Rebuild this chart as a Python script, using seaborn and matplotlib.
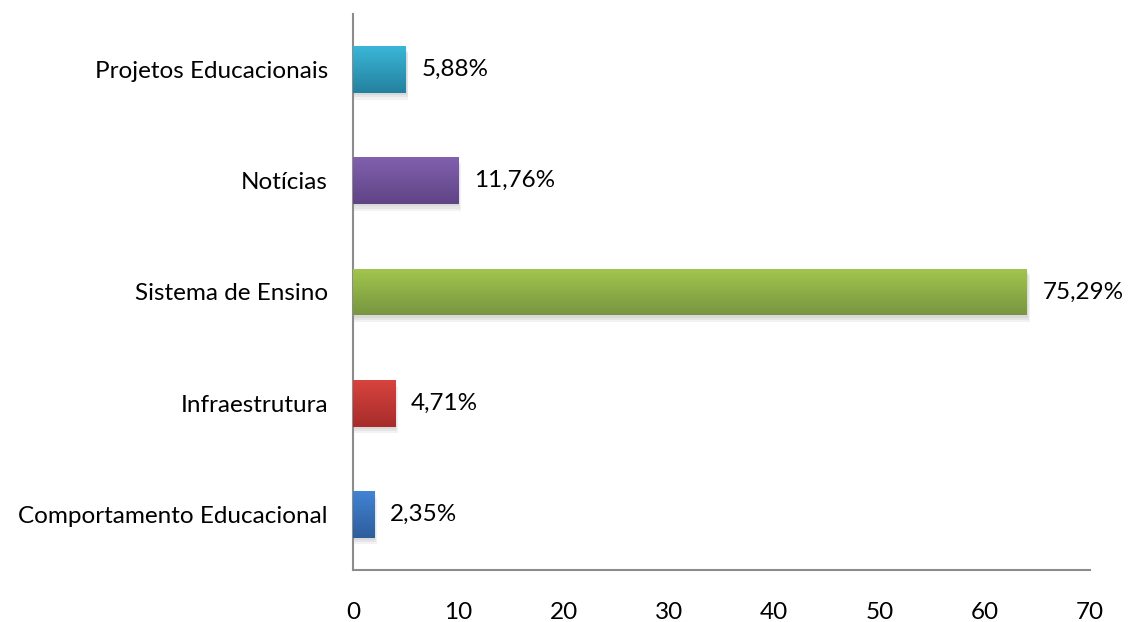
import numpy as np
import pandas as pd
import matplotlib
matplotlib.use("Agg")
import matplotlib.pyplot as plt
import seaborn as sns
from matplotlib.colors import LinearSegmentedColormap
from matplotlib.patches import Rectangle

categories = ["Projetos Educacionais", "Notícias", "Sistema de Ensino",
              "Infraestrutura", "Comportamento Educacional"]
values = [5, 10, 64, 4, 2]
labels = ["5,88%", "11,76%", "75,29%", "4,71%", "2,35%"]
top_colors = ["#3AB6D8", "#8160AE", "#A2C64E", "#D8433E", "#4283D3"]
bottom_colors = ["#24819E", "#5F4485", "#789640", "#A62C2A", "#2D5E9C"]
xticks = [0, 10, 20, 30, 40, 50, 60, 70]

sns.set_theme(style="white")
plt.rcParams['font.family'] = ['Lato', 'DejaVu Sans']

FS = 17.5

fig = plt.figure(figsize=(11.28, 6.22), dpi=100)
ax = fig.add_axes([353/1128, 52/622, (1090-353)/1128, (570-14)/622])

df = pd.DataFrame({"cat": categories, "val": values})
sns.barplot(data=df, x="val", y="cat", orient="h", ax=ax, width=0.42,
            color="#999999", saturation=1, edgecolor="none")

ax.set_xlim(0, 70)
ax.set_ylim(4.5, -0.5)

patches = list(ax.patches)
for p, c1, c2, lab in zip(patches, top_colors, bottom_colors, labels):
    x0, y0 = p.get_x(), p.get_y()
    w, h = p.get_width(), p.get_height()
    # soft shadow
    for k, a in enumerate([0.05, 0.05, 0.05]):
        off = 0.1 + 0.08 * k
        sh = Rectangle((x0, y0 + 0.02 + 0.02 * k), w + off, h, facecolor="#000000",
                       alpha=a, edgecolor="none", zorder=1)
        ax.add_patch(sh)
    cmap = LinearSegmentedColormap.from_list("g", [c1, c2])
    grad = np.linspace(0, 1, 100).reshape(-1, 1)
    im = ax.imshow(grad, cmap=cmap, aspect="auto",
                   extent=[x0, x0 + w, y0 + h, y0], origin="upper", zorder=3)
    im.set_clip_path(p)
    p.set_zorder(2)
    ax.text(x0 + w + 1.5, y0 + h / 2, lab, va="center", ha="left",
            fontsize=FS, color="#000000")

ax.set_xlim(0, 70)
ax.set_ylim(4.5, -0.5)
ax.set_xticks(xticks)
ax.set_xticklabels([str(t) for t in xticks])
ax.set_xlabel("")
ax.set_ylabel("")
ax.tick_params(axis="both", length=0, labelsize=FS, colors="#000000")
ax.tick_params(axis="x", pad=23)
ax.tick_params(axis="y", pad=18)
for s in ["top", "right"]:
    ax.spines[s].set_visible(False)
for s in ["left", "bottom"]:
    ax.spines[s].set_color("#8C8C8C")
    ax.spines[s].set_linewidth(1.5)

fig.savefig("out.png", dpi=100, facecolor="white")
